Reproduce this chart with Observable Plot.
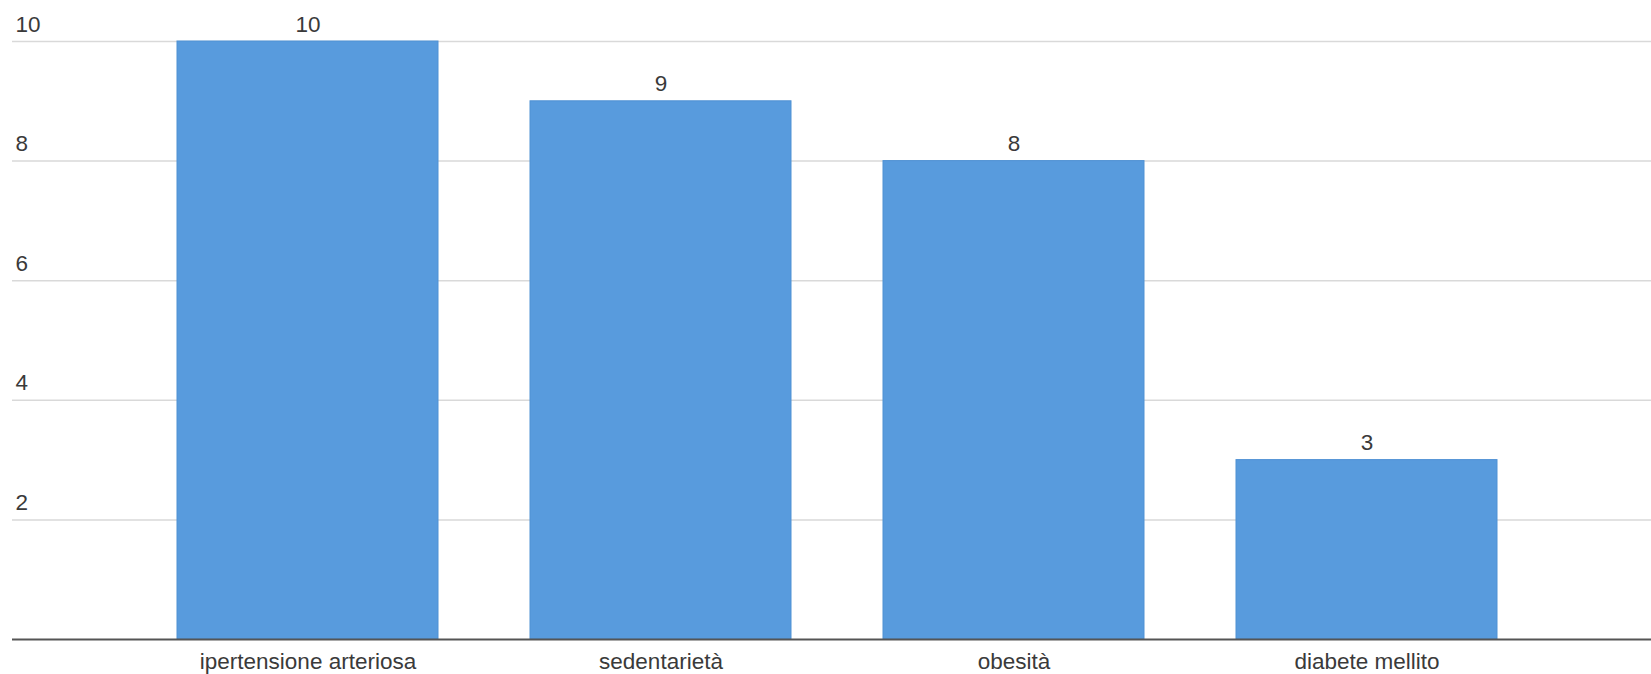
<!DOCTYPE html>
<html>
<head>
<meta charset="utf-8">
<script src="https://cdn.jsdelivr.net/npm/d3@7"></script>
<script src="https://cdn.jsdelivr.net/npm/@observablehq/plot@0.6"></script>
<style>
  html, body { margin: 0; padding: 0; background: #fff; }
</style>
</head>
<body>
<div id="chart"></div>
<script>
const categories = ["ipertensione arteriosa", "sedentarietà", "obesità", "diabete mellito"];
const values = [10, 9, 8, 3];
const yTicks = [2, 4, 6, 8, 10];

const data = categories.map((c, i) => ({category: c, value: values[i]}));
const font = "'Liberation Sans', Arial, Helvetica, sans-serif";
const textColor = "#3a3a3a";

const chart = Plot.plot({
  width: 1651,
  height: 674,
  marginLeft: 12,
  marginRight: 0,
  marginTop: 41,
  marginBottom: 35,
  style: {fontFamily: font, fontSize: "22px", background: "#ffffff"},
  x: {domain: categories, paddingInner: 0.26, paddingOuter: 0.4457, align: 0.517, axis: null},
  y: {domain: [0, 10], axis: null},
  marks: [
    Plot.ruleY(yTicks, {stroke: "#d9d9d9", strokeWidth: 1.5}),
    Plot.text(yTicks, {y: d => d, text: d => String(d), frameAnchor: "left", textAnchor: "start", lineAnchor: "bottom", dx: 3, dy: -10, fill: textColor, fontSize: 22.5}),
    Plot.barY(data, {x: "category", y: "value", fill: "#589bdd", stroke: "#4f91d4", strokeWidth: 1}),
    Plot.text(data, {x: "category", y: "value", text: d => String(d.value), lineAnchor: "bottom", dy: -10, fill: textColor, fontSize: 22.5}),
    Plot.ruleY([0], {stroke: "#555555", strokeWidth: 2}),
    Plot.text(data, {x: "category", y: 0, text: "category", lineAnchor: "bottom", dy: 29, fill: textColor, fontSize: 22.5})
  ]
});
document.getElementById("chart").appendChild(chart);
</script>
</body>
</html>
